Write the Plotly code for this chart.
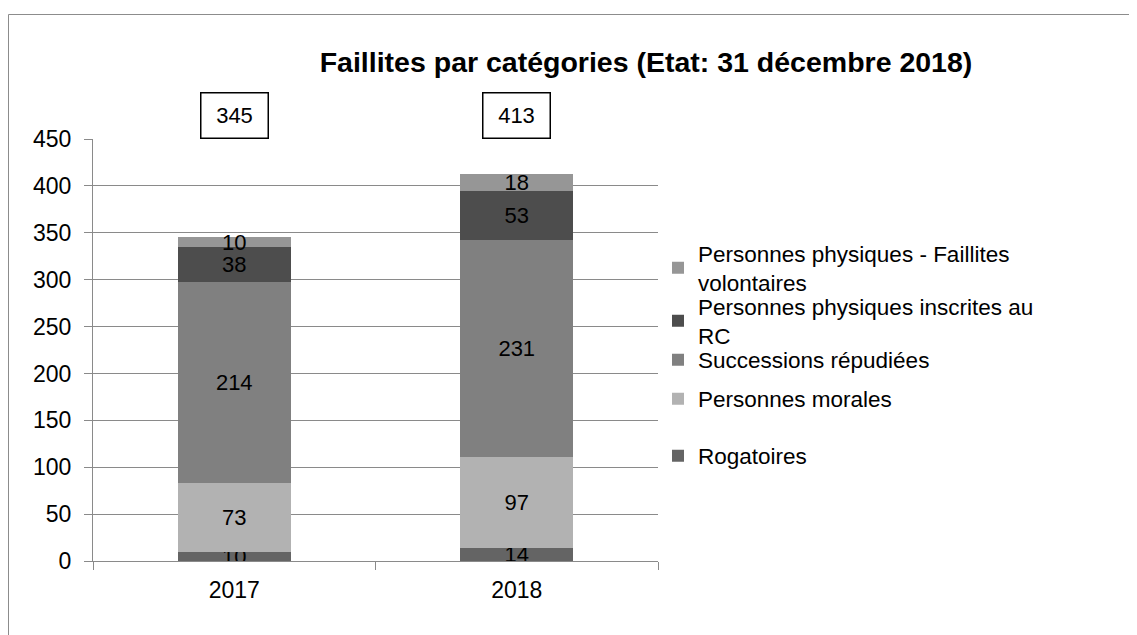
import plotly.graph_objects as go

years = ["2017", "2018"]
series_names = [
    "Rogatoires",
    "Personnes morales",
    "Successions répudiées",
    "Personnes physiques inscrites au<br>RC",
    "Personnes physiques - Faillites<br>volontaires",
]
rogatoires = [10, 14]
personnes_morales = [73, 97]
successions = [214, 231]
inscrites_rc = [38, 53]
volontaires = [10, 18]
totals = [345, 413]

series_values = [rogatoires, personnes_morales, successions, inscrites_rc, volontaires]
colors = ["#646464", "#b2b2b2", "#808080", "#4d4d4d", "#969696"]
legend_ids = ["legend5", "legend4", "legend3", "legend2", "legend"]

FONT = "Liberation Sans, Arial, sans-serif"
OFF = 8  # page body margin
W, H = 1137 - OFF, 635 - OFF
# plot area in screen pixels: x 93..658, y 139..561
L, T = 93 - OFF, 139 - OFF
R = W - (658 - OFF)
B = H - (561 - OFF)
PW, PH = W - L - R, H - T - B

def px_x(sx):
    return (sx - OFF - L) / PW

def px_y(sy):
    return (H - B - (sy - OFF)) / PH

fig = go.Figure()
for name, vals, col, lg in zip(series_names, series_values, colors, legend_ids):
    fig.add_trace(go.Bar(
        x=years, y=vals, name=name, marker=dict(color=col, line=dict(width=0)),
        text=vals, textposition="inside", insidetextanchor="middle",
        textangle=0, constraintext="none",
        textfont=dict(color="black", size=22, family=FONT),
        legend=lg,
    ))

# total boxes (category index positions)
for i, tot in enumerate(totals):
    fig.add_annotation(
        x=i, y=px_y(115.5), xref="x", yref="paper", text=str(tot),
        xanchor="center", yanchor="middle",
        showarrow=False, font=dict(size=22, color="black", family=FONT),
        bordercolor="black", borderwidth=1.5, width=64, height=42,
        bgcolor="white",
    )

# outer chart border
fig.add_shape(type="rect", xref="paper", yref="paper",
              x0=px_x(8.5), x1=px_x(1160), y0=px_y(14.5), y1=px_y(660),
              line=dict(color="#8c8c8c", width=1), layer="below")

legend_centers = [268, 321, 360, 399, 456]
legend_common = dict(
    x=px_x(658), xanchor="left", yanchor="middle", bgcolor="rgba(0,0,0,0)",
    font=dict(size=22.5, color="black", family=FONT), itemclick=False,
    tracegroupgap=0,
)
layout_legends = {}
for lg, cy in zip(["legend", "legend2", "legend3", "legend4", "legend5"], legend_centers):
    layout_legends[lg] = dict(legend_common, y=px_y(cy))

fig.update_layout(
    width=W, height=H,
    margin=dict(l=L, r=R, t=T, b=B, autoexpand=False),
    barmode="stack", bargap=0.6,
    paper_bgcolor="white", plot_bgcolor="white",
    font=dict(family=FONT, color="black", size=22),
    title=dict(text="<b>Faillites par catégories (Etat: 31 décembre 2018)</b>",
               x=(646 - OFF) / W, xanchor="center",
               y=1 - (62 - OFF) / H, yanchor="middle",
               font=dict(size=28.5, color="black", family=FONT)),
    showlegend=True,
    uniformtext=dict(minsize=22, mode="show"),
    **layout_legends,
)
fig.update_yaxes(range=[0, 450], dtick=50, showgrid=True, gridcolor="#8a8a8a",
                 gridwidth=1, showline=True, linecolor="#8a8a8a", linewidth=1,
                 ticks="outside", ticklen=8, tickcolor="#8a8a8a",
                 ticklabelstandoff=8, zeroline=False,
                 tickfont=dict(size=23, family=FONT, color="black"))
fig.update_xaxes(type="category", range=[-0.5, 1.5], showline=True,
                 linecolor="#8a8a8a", linewidth=1,
                 ticks="outside", ticklen=8, tickcolor="#8a8a8a",
                 tickson="boundaries", showgrid=False, ticklabelstandoff=8,
                 tickfont=dict(size=23, family=FONT, color="black"))

fig.write_html("out.html")
